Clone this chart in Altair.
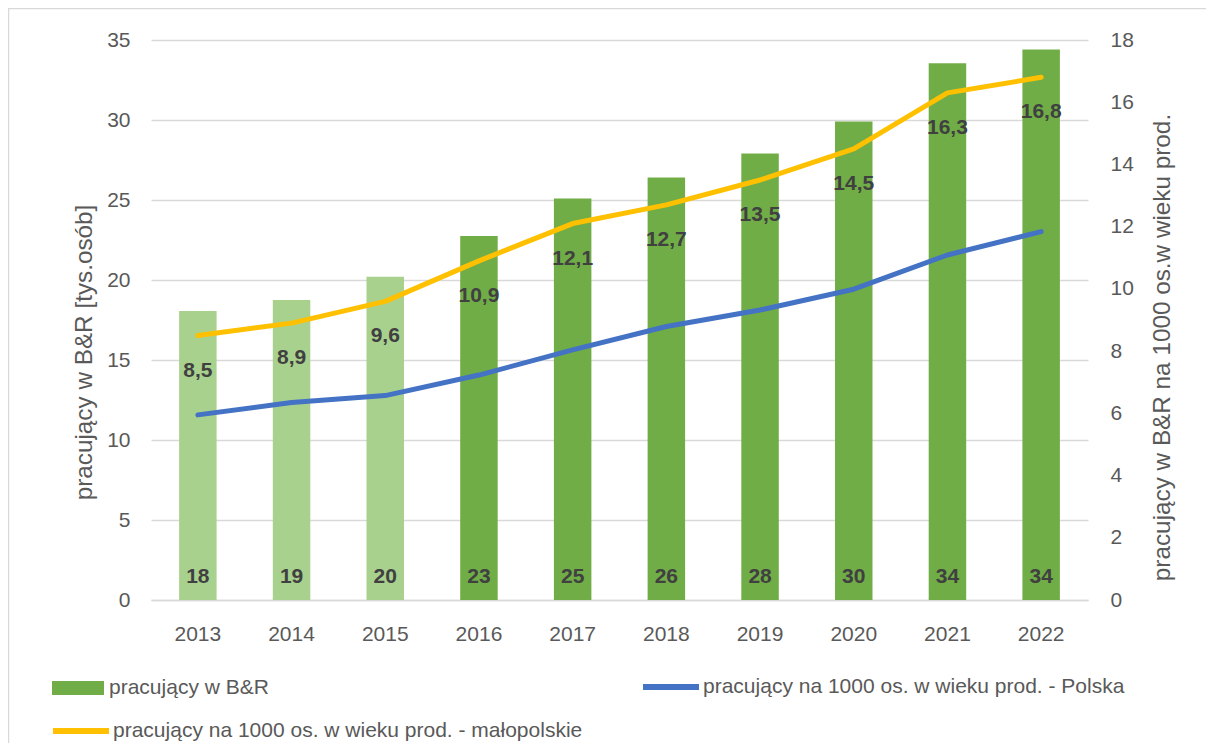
import altair as alt
import pandas as pd

years = [2013, 2014, 2015, 2016, 2017, 2018, 2019, 2020, 2021, 2022]
workers_rd = [18.06, 18.75, 20.2, 22.75, 25.1, 26.4, 27.9, 29.9, 33.55, 34.4]
light_bar = [True, True, True, False, False, False, False, False, False, False]
per1000_polska = [5.95, 6.35, 6.57, 7.23, 8.04, 8.79, 9.32, 9.99, 11.09, 11.84]
per1000_malopolskie = [8.5, 8.9, 9.6, 10.9, 12.1, 12.7, 13.5, 14.5, 16.3, 16.8]

S_BAR = "pracujący w B&R"
S_PL = "pracujący na 1000 os. w wieku prod. - Polska"
S_MP = "pracujący na 1000 os. w wieku prod. - małopolskie"
left_title = "pracujący w B&R [tys.osób]"
right_title = "pracujący w B&R na 1000 os.w wieku prod."
left_ticks = [0, 5, 10, 15, 20, 25, 30, 35]
right_ticks = [0, 2, 4, 6, 8, 10, 12, 14, 16, 18]

DARK_GREEN = "#70AD47"
LIGHT_GREEN = "#A9D18E"
BLUE = "#4472C4"
YELLOW = "#FFC000"
GRAY_TXT = "#595959"
GRID = "#D9D9D9"
FONT = "Liberation Sans"

bars_df = pd.DataFrame({"year": years, "value": workers_rd, "light": light_bar, "series": S_BAR})
pl_df = pd.DataFrame({"year": years, "value": per1000_polska, "series": S_PL})
mp_df = pd.DataFrame({"year": years, "value": per1000_malopolskie, "series": S_MP})

bar_path = "M-1,-0.27H1V0.27H-1Z"


def leg(x, y, sym, size, sw, off):
    return alt.Legend(
        title=None, orient="none", legendX=x, legendY=y, padding=0,
        symbolType=sym, symbolSize=size, symbolStrokeWidth=sw, symbolOpacity=1,
        labelOffset=off, labelFont=FONT, labelFontSize=21, labelColor=GRAY_TXT, labelLimit=1000,
    )


X = alt.X("year:O", title=None,
          scale=alt.Scale(paddingInner=0.6, paddingOuter=0.3),
          axis=alt.Axis(labelAngle=0, labelFont=FONT, labelFontSize=21, labelColor=GRAY_TXT,
                        labelPadding=23, ticks=False, domain=True, domainColor=GRID,
                        domainWidth=1.5, grid=False))

left_axis = alt.Axis(values=left_ticks, title=left_title, labelFont=FONT, labelFontSize=21,
                     labelColor=GRAY_TXT, labelPadding=21, domain=False, ticks=False,
                     grid=True, gridColor=GRID, gridWidth=1.5,
                     titleFont=FONT, titleFontSize=24.3, titleFontWeight="normal", titleColor=GRAY_TXT,
                     titleAngle=270, titleX=-67, titleY=312, titleAlign="center", titleBaseline="middle")

right_axis = alt.Axis(orient="right", values=right_ticks, title=right_title, labelFont=FONT,
                      labelFontSize=21, labelColor=GRAY_TXT, labelPadding=22, domain=False,
                      ticks=False, grid=False,
                      titleFont=FONT, titleFontSize=24.3, titleFontWeight="normal", titleColor=GRAY_TXT,
                      titleAngle=270, titleX=74, titleY=307, titleAlign="center", titleBaseline="middle")

frame = alt.Chart(pd.DataFrame({"f": [0]})).mark_rect(
    fillOpacity=0, stroke=GRID, strokeWidth=1.5
).encode(x=alt.value(-142.5), x2=alt.value(1300), y=alt.value(-31.5), y2=alt.value(900))

bars = alt.Chart(bars_df).mark_bar().encode(
    x=X,
    y=alt.Y("value:Q", scale=alt.Scale(domain=[0, 35]), axis=left_axis),
    fill=alt.condition("datum.light", alt.value(LIGHT_GREEN),
                       alt.Fill("series:N", scale=alt.Scale(domain=[S_BAR], range=[DARK_GREEN]),
                                legend=leg(-99, 622, bar_path, 2704, 0, 5))),
)

bar_text = alt.Chart(bars_df).transform_calculate(
    base="0", lbl="format(datum.value, '.0f')"
).mark_text(font=FONT, fontSize=21, fontWeight="bold", color="#404040", dy=-23, baseline="middle").encode(
    x=X,
    y=alt.Y("base:Q", scale=alt.Scale(domain=[0, 35]), axis=None),
    text="lbl:N",
)

line_pl = alt.Chart(pl_df).mark_line(strokeWidth=5, strokeCap="round", strokeJoin="round").encode(
    x=X,
    y=alt.Y("value:Q", scale=alt.Scale(domain=[0, 18]), axis=right_axis),
    stroke=alt.Stroke("series:N", scale=alt.Scale(domain=[S_PL], range=[BLUE]),
                      legend=leg(489, 616, "stroke", 3136, 6, 1)),
)

line_mp = alt.Chart(mp_df).mark_line(strokeWidth=5, strokeCap="round", strokeJoin="round").encode(
    x=X,
    y=alt.Y("value:Q", scale=alt.Scale(domain=[0, 18]), axis=None),
    stroke=alt.Stroke("series:N", scale=alt.Scale(domain=[S_MP], range=[YELLOW]),
                      legend=leg(-101, 660, "stroke", 3136, 6, 1)),
)

line_text = alt.Chart(mp_df).transform_calculate(
    lbl="replace(format(datum.value, '.1f'), '.', ',')"
).mark_text(font=FONT, fontSize=21, fontWeight="bold", color="#404040", dy=35, baseline="middle").encode(
    x=X,
    y=alt.Y("value:Q", scale=alt.Scale(domain=[0, 18]), axis=None),
    text="lbl:N",
)

chart = alt.layer(frame, bars, bar_text, line_pl, line_mp, line_text).resolve_scale(
    y="independent", stroke="independent"
).properties(
    width=937, height=560,
    autosize=alt.AutoSizeParams(type="none"),
    padding={"left": 143, "top": 32, "right": 118, "bottom": 143},
    background="white",
).configure_view(stroke=None)

chart.save("out.html", embed_options={"renderer": "svg", "actions": False})
